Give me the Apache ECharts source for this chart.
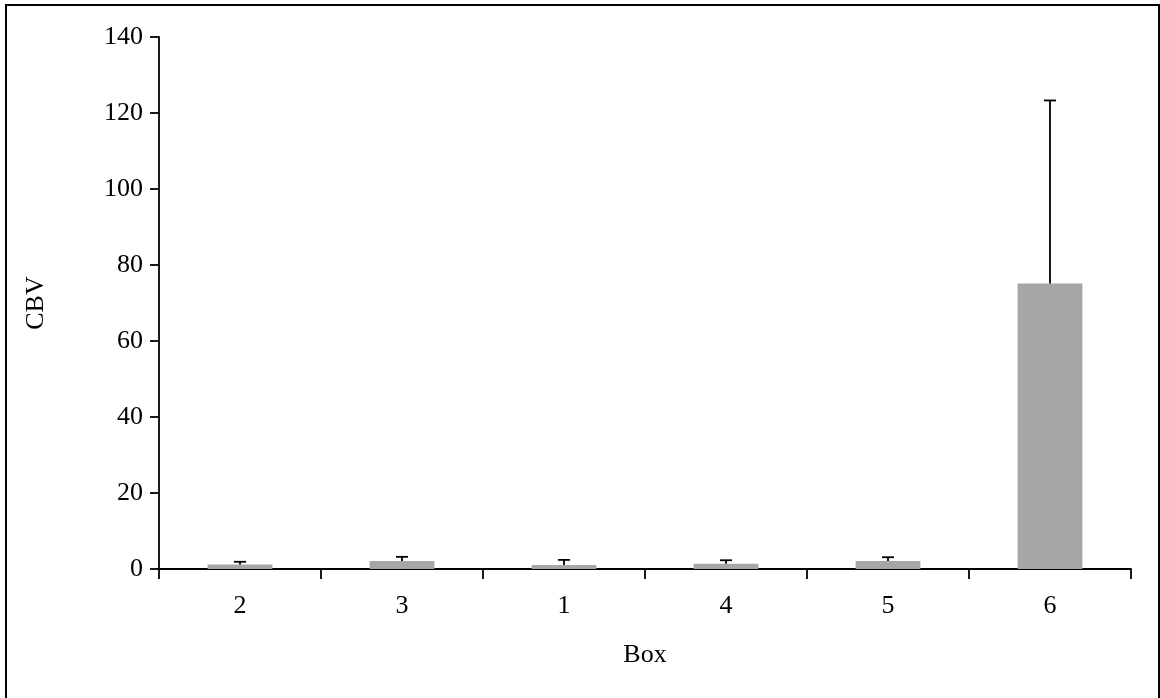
<!DOCTYPE html>
<html><head><meta charset="utf-8">
<script src="https://cdn.jsdelivr.net/npm/echarts@6/dist/echarts.min.js"></script>
<style>html,body{margin:0;padding:0;background:#fff;overflow:hidden}
#wrap{position:relative;width:1160px;height:698px;overflow:hidden}
#frame{position:absolute;left:5px;top:4px;width:1155px;height:720px;box-sizing:border-box;border:2px solid #000;pointer-events:none}
#c{position:absolute;left:0;top:0;width:1160px;height:698px}</style>
</head><body><div id="wrap"><div id="c"></div><div id="frame"></div></div>
<script>
const categories = ['2','3','1','4','5','6'];
const values = [1.2, 2.1, 1.05, 1.4, 2.1, 75.1];
const errors = [0.7, 1.1, 1.35, 0.9, 1.0, 48.2];
const yTicks = [0,20,40,60,80,100,120,140];

const chart = echarts.init(document.getElementById('c'));
const font = 'Liberation Serif, Times New Roman, serif';
chart.setOption({
  animation:false,
  grid:{left:159,right:29,top:37,bottom:129,containLabel:false},
  xAxis:{type:'category',data:categories,name:'Box',nameLocation:'middle',nameGap:73,
    nameTextStyle:{fontFamily:font,fontSize:26,color:'#000'},
    axisLine:{lineStyle:{color:'#000',width:1.8}},
    axisTick:{show:true,length:10,lineStyle:{color:'#000',width:1.8},alignWithLabel:false},
    axisLabel:{fontFamily:font,fontSize:26,color:'#000',margin:24}},
  yAxis:{type:'value',min:0,max:140,interval:20,name:'CBV',nameLocation:'middle',nameGap:110,
    nameTextStyle:{fontFamily:font,fontSize:26,color:'#000'},
    splitLine:{show:false},
    axisLine:{show:true,lineStyle:{color:'#000',width:1.8}},
    axisTick:{show:true,length:9,lineStyle:{color:'#000',width:1.8}},
    axisLabel:{fontFamily:font,fontSize:26,color:'#000',margin:16,
      formatter:v=>yTicks.includes(v)?String(v):''}},
  series:[
    {type:'bar',data:values,barWidth:'40%',itemStyle:{color:'#a6a6a6'},z:2},
    {type:'custom',z:3,data:values.map((v,i)=>[i,v,v+errors[i]]),
      renderItem:function(params,api){
        const x=api.value(0);
        const p0=api.coord([x,api.value(1)]);
        const p1=api.coord([x,api.value(2)]);
        const hw=6;
        return {type:'group',children:[
          {type:'line',shape:{x1:p0[0],y1:p0[1],x2:p1[0],y2:p1[1]},style:{stroke:'#000',lineWidth:1.8}},
          {type:'line',shape:{x1:p1[0]-hw,y1:p1[1],x2:p1[0]+hw,y2:p1[1]},style:{stroke:'#000',lineWidth:1.8}}
        ]};
      }}
  ]
});
</script></body></html>
